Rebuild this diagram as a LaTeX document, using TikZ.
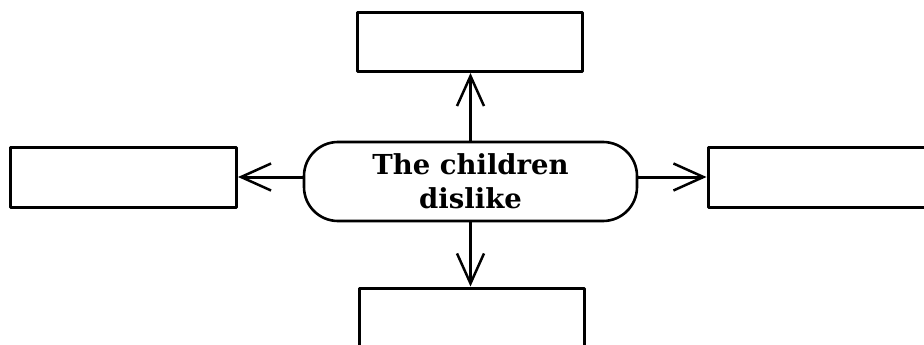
\documentclass[tikz,border=0pt]{standalone}
\usepackage{fontspec}
\setmainfont{DejaVu Serif}
\usetikzlibrary{arrows.meta}
\begin{document}
\begin{tikzpicture}[line cap=round,line join=round,x=1pt,y=-1pt,
		box/.style={draw,line width=3pt,rectangle,minimum width=225pt,minimum height=59pt,inner sep=0pt},
		hub/.style={draw,line width=2.6pt,rectangle,rounded corners=34pt,minimum width=333pt,minimum height=79pt,align=center,font=\bfseries\fontsize{27.5}{34}\selectfont},
		link/.style={line width=3pt,-{Straight Barb[length=30pt,width=27pt,line width=2.5pt]}}]
			\useasboundingbox (0,0) rectangle (924,345);
			\clip (0,0) rectangle (924,345);
			\node [hub] (dislike) at (470.5,181.5) {The children\\dislike};
			\node [box] (up) at (469.5,42) {};
			\node [box,minimum height=100pt] (down) at (471.5,338) {};
			\node [box,minimum width=226pt,minimum height=60pt] (left) at (123.5,177) {};
			\node [box,minimum width=250pt,minimum height=60pt] (right) at (833,177) {};
			\draw [link] (dislike.north) -- (dislike.north |- up.south);
			\draw [link] (dislike.south) -- (dislike.south |- down.north);
			\draw [link] (left.east -| dislike.west) -- (left.east);
			\draw [link] (right.west -| dislike.east) -- (right.west);
		\end{tikzpicture}
\end{document}
